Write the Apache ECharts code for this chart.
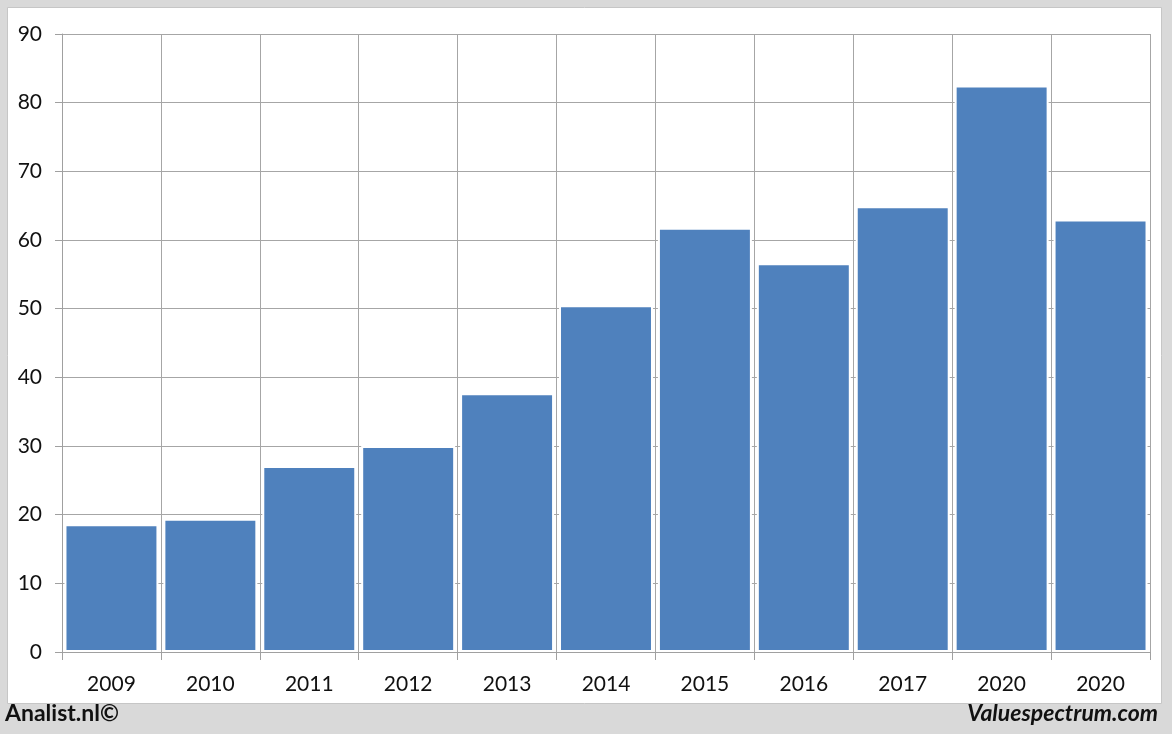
<!DOCTYPE html>
<html>
<head>
<meta charset="utf-8">
<script src="https://cdn.jsdelivr.net/npm/echarts@6/dist/echarts.min.js"></script>
<style>
html,body{margin:0;padding:0;background:#d9d9d9;}
#c{width:1172px;height:734px;}
</style>
</head>
<body>
<div id="c"></div>
<script>
const categories = ['2009','2010','2011','2012','2013','2014','2015','2016','2017','2020','2020'];
const values = [18.6, 19.4, 27.1, 30.0, 37.7, 50.5, 61.8, 56.6, 64.9, 82.5, 63.0];
const yTicks = [0, 10, 20, 30, 40, 50, 60, 70, 80, 90];

const chart = echarts.init(document.getElementById('c'));
const font = 'Lato, "Open Sans", sans-serif';
chart.setOption({
  backgroundColor: '#d9d9d9',
  animation: false,
  graphic: [
    {type:'rect', z:-10, shape:{x:7.5,y:7.5,width:1154,height:696}, style:{fill:'#ffffff', stroke:'#c6c6c6', lineWidth:1}},
    {type:'text', left:5, top:702, style:{text:'Analist.nl©', fill:'#111', font:'bold 23px ' + font}},
    {type:'text', right:14, top:702, style:{text:'Valuespectrum.com', fill:'#111', font:'italic bold 23px ' + font}}
  ],
  grid: {left:62, right:22, top:34, bottom:82},
  xAxis: {
    type:'category',
    data: categories,
    axisLine:{show:true, lineStyle:{color:'#a0a0a0', width:1}},
    axisTick:{show:true, length:8, lineStyle:{color:'#a0a0a0'}},
    axisLabel:{color:'#111', fontSize:21, fontFamily:font, margin:22},
    splitLine:{show:true, lineStyle:{color:'#a6a6a6', width:1}}
  },
  yAxis: {
    type:'value',
    min: yTicks[0], max: yTicks[yTicks.length-1], interval: 10,
    axisLine:{show:true, lineStyle:{color:'#a0a0a0', width:1}},
    axisTick:{show:true, length:7, lineStyle:{color:'#a0a0a0'}},
    axisLabel:{color:'#111', fontSize:21, fontFamily:font, margin:20},
    splitLine:{show:true, lineStyle:{color:'#a6a6a6', width:1}}
  },
  series: [{
    type:'bar',
    data: values,
    barCategoryGap:'5%',
    itemStyle:{color:'#4f81bd', borderColor:'#ffffff', borderWidth:2}
  }]
});
</script>
</body>
</html>
